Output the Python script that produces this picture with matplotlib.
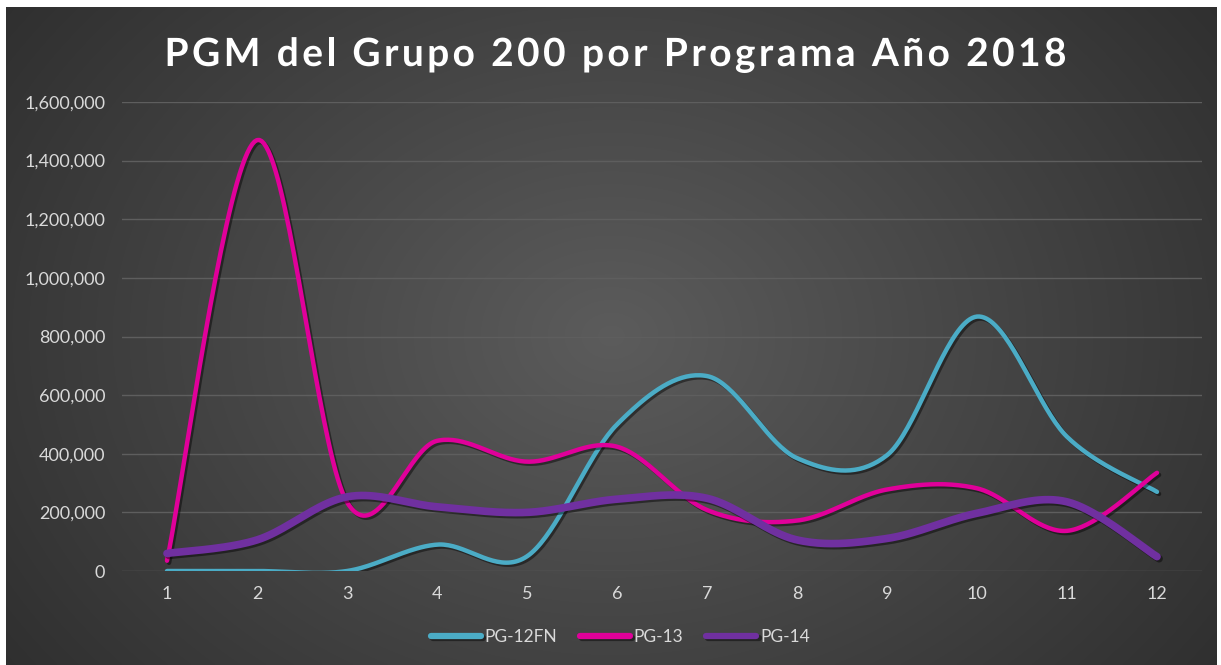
import numpy as np
import matplotlib
matplotlib.use("Agg")
import matplotlib.pyplot as plt
import matplotlib.patheffects as pe
from matplotlib.ticker import FuncFormatter

months = list(range(1, 13))
pg12fn = [0, 0, 0, 90000, 50000, 500000, 665000, 385000, 395000, 868000, 458000, 270000]
pg13 = [35000, 1470000, 235000, 444000, 373000, 424000, 208000, 172000, 278000, 282000, 137000, 335000]
pg14 = [60000, 106000, 253000, 219000, 200000, 245000, 248000, 106000, 111000, 197000, 236000, 49000]
series_names = ["PG-12FN", "PG-13", "PG-14"]
title = "PGM del Grupo 200 por Programa Año 2018"

colors = ["#4bacc6", "#e0009a", "#7030a0"]
widths = [3.2, 3.2, 5.5]

plt.rcParams['font.family'] = ['Lato', 'DejaVu Sans']


def smooth(x, y, n=40):
    x = np.asarray(x, float)
    y = np.asarray(y, float)
    P = np.column_stack([x, y])
    P = np.vstack([P[0], P, P[-1]])
    out = []
    t = np.linspace(0, 1, n)[:, None]
    for i in range(1, len(P) - 2):
        p0 = P[i]
        p3 = P[i + 1]
        p1 = p0 + (P[i + 1] - P[i - 1]) / 6.0
        p2 = p3 - (P[i + 2] - P[i]) / 6.0
        seg = ((1 - t) ** 3) * p0 + 3 * ((1 - t) ** 2) * t * p1 + 3 * (1 - t) * t ** 2 * p2 + t ** 3 * p3
        out.append(seg if i == 1 else seg[1:])
    s = np.vstack(out)
    return s[:, 0], s[:, 1]


fig = plt.figure(figsize=(12.21, 6.65), dpi=100)
fig.patch.set_facecolor("white")

# background radial gradient
bg = fig.add_axes([0.005, 0.0, 0.991, 0.989])
bg.set_axis_off()
yy, xx = np.mgrid[-1:1:300j, -1:1:600j]
r = np.sqrt((xx * 0.85) ** 2 + (yy * 0.6) ** 2)
val = 0.36 - 0.2 * np.clip(r, 0, 1.2) / 1.2
img = np.dstack([val, val, val])
bg.imshow(img, aspect="auto", extent=[0, 1, 0, 1], interpolation="bilinear")

ax = fig.add_axes([122 / 1221, (665 - 571) / 665, 1080 / 1221, (571 - 102) / 665])
ax.patch.set_alpha(0)
ax.set_xlim(0.5, 12.5)
ax.set_ylim(0, 1600000)
ax.set_yticks(np.arange(0, 1600001, 200000))
ax.set_xticks(months)
ax.yaxis.set_major_formatter(FuncFormatter(lambda v, p: f"{int(v):,}"))
ax.grid(axis="y", color="#5e5e5e", linewidth=1)
ax.set_axisbelow(True)
for s in ax.spines.values():
    s.set_visible(False)
ax.tick_params(length=0, colors="#d9d9d9", labelsize=13)
ax.tick_params(axis="y", pad=12)
ax.tick_params(axis="x", pad=11)

for name, data, c, w in zip(series_names, [pg12fn, pg13, pg14], colors, widths):
    sx, sy = smooth(months, data)
    ax.plot(sx, sy, color=c, lw=w, solid_capstyle="round", label=name,
            path_effects=[pe.SimpleLineShadow(offset=(1.5, -1.5), alpha=0.45, shadow_color="black"), pe.Normal()])

leg = fig.legend(*ax.get_legend_handles_labels(), loc="center", bbox_to_anchor=(0.508, 1 - 637 / 665),
                 ncol=3, frameon=False, fontsize=12.5, handlelength=2.9, handletextpad=0.2,
                 columnspacing=1.3)
for t in leg.get_texts():
    t.set_color("#d9d9d9")
for h in leg.get_lines():
    h.set_linewidth(4.5)
    h.set_solid_capstyle("round")

# letter-spaced title
fig.canvas.draw()
renderer = fig.canvas.get_renderer()
tprops = dict(fontsize=28, fontweight="bold", color="white", va="baseline", ha="left")
shadow = [pe.SimpleLineShadow(offset=(2, -2), alpha=0.6), pe.Normal()]


def text_width(s):
    tt = fig.text(0, 0, s + "|", **tprops)
    w1 = tt.get_window_extent(renderer).width
    tt.remove()
    tt = fig.text(0, 0, "|", **tprops)
    w2 = tt.get_window_extent(renderer).width
    tt.remove()
    return w1 - w2


spacing = 3.4  # extra pixels between characters
widths_prefix = [text_width(title[:i]) for i in range(len(title) + 1)]
total = widths_prefix[-1] + spacing * (len(title) - 1)
x_center = 615.5
x0 = x_center - total / 2
y_base = 665 - 66
for i, ch in enumerate(title):
    if ch == " ":
        continue
    xpix = x0 + widths_prefix[i] + spacing * i
    fig.text(xpix / 1221, y_base / 665, ch, path_effects=shadow, **tprops)

fig.savefig("out.png", dpi=100, facecolor=fig.get_facecolor())
